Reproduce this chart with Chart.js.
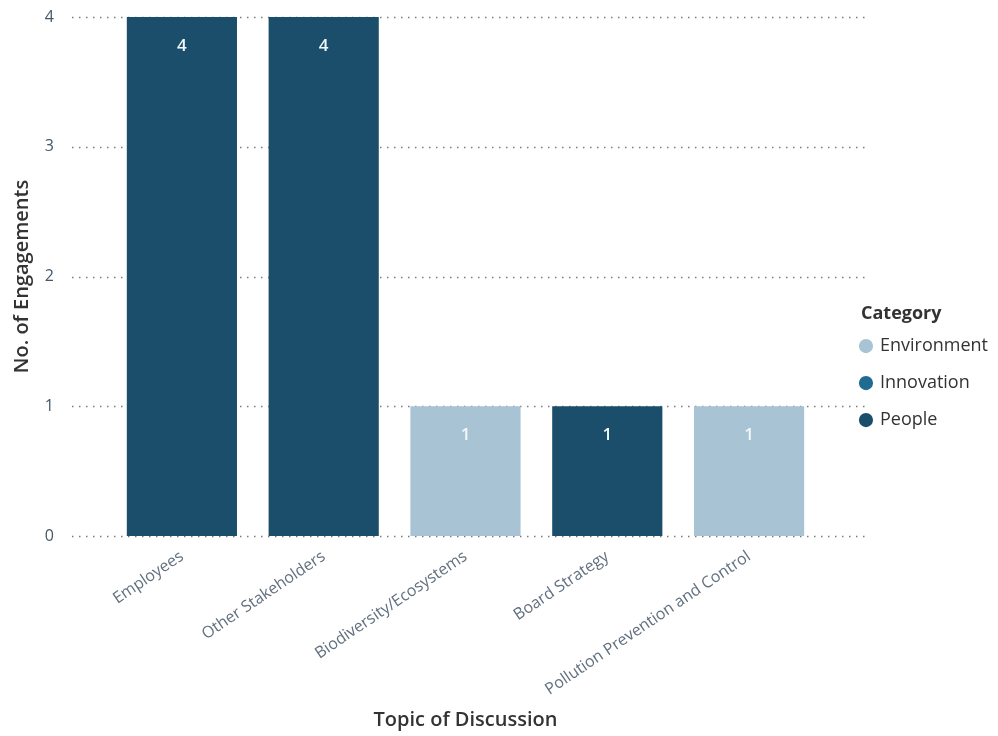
<!DOCTYPE html>
<html>
<head>
<meta charset="utf-8">
<script src="https://cdn.jsdelivr.net/npm/chart.js@4.4.1/dist/chart.umd.min.js"></script>
<style>
  html, body { margin: 0; padding: 0; background: #fff; }
  #wrap { width: 998px; height: 736px; }
</style>
</head>
<body>
<div id="wrap"><canvas id="engChart"></canvas></div>
<script>
// dados
const categories = ["Employees", "Other Stakeholders", "Biodiversity/Ecosystems", "Board Strategy", "Pollution Prevention and Control"];
const environment = [null, null, 1, null, 1];
const innovation = [null, null, null, null, null];
const people = [4, 4, null, 1, null];
const yTicks = [0, 1, 2, 3, 4];

const FONT = "'Open Sans', 'Noto Sans', sans-serif";

// linhas pontilhadas de grade, um pouco mais largas que a área das barras
const dottedGrid = {
  id: "dottedGrid",
  beforeDatasetsDraw(chart) {
    const { ctx, chartArea, scales } = chart;
    ctx.save();
    ctx.strokeStyle = "#7c7c7c";
    ctx.lineWidth = 1.5;
    ctx.setLineDash([1.5, 5.5]);
    yTicks.forEach((v) => {
      const y = Math.round(scales.y.getPixelForValue(v)) + 0.5;
      ctx.beginPath();
      ctx.moveTo(chartArea.left - 39, y);
      ctx.lineTo(chartArea.right + 46, y);
      ctx.stroke();
    });
    ctx.restore();
  },
};

// rótulos de valor dentro das barras
const barLabels = {
  id: "barLabels",
  afterDatasetsDraw(chart) {
    const { ctx } = chart;
    ctx.save();
    ctx.font = "600 17px " + FONT;
    ctx.fillStyle = "#f2f7fa";
    ctx.textAlign = "center";
    ctx.textBaseline = "middle";
    chart.data.datasets.forEach((ds, i) => {
      chart.getDatasetMeta(i).data.forEach((bar, j) => {
        if (ds.data[j] == null) return;
        ctx.fillText(String(ds.data[j]), bar.x, bar.y + 29);
      });
    });
    ctx.restore();
  },
};

// título da legenda alinhado com os círculos
const legendTitle = {
  id: "legendTitle",
  afterDraw(chart) {
    const lg = chart.legend;
    if (!lg || !lg.legendHitBoxes.length) return;
    const hb = lg.legendHitBoxes[0];
    const { ctx } = chart;
    ctx.save();
    ctx.font = "bold 18px " + FONT;
    ctx.fillStyle = "#333";
    ctx.textAlign = "left";
    ctx.textBaseline = "middle";
    ctx.fillText("Category", hb.left, hb.top + hb.height / 2 - 32);
    ctx.restore();
  },
};

new Chart(document.getElementById("engChart"), {
  type: "bar",
  data: {
    labels: categories,
    datasets: [
      { label: "Environment", data: environment, backgroundColor: "#a7c3d4" },
      { label: "Innovation", data: innovation, backgroundColor: "#1f6b91" },
      { label: "People", data: people, backgroundColor: "#1b4e6b" },
    ],
  },
  options: {
    responsive: true,
    maintainAspectRatio: false,
    animation: false,
    layout: { padding: { top: 17, left: 6, right: 0, bottom: 0 } },
    datasets: { bar: { categoryPercentage: 1, barPercentage: 0.777 } },
    plugins: {
      tooltip: { enabled: false },
      legend: {
        position: "right",
        align: "center",
        title: {
          display: true,
          text: "Category",
          color: "rgba(0,0,0,0)",
          font: { family: FONT, size: 11, weight: "bold" },
          padding: { top: 0, bottom: 0 },
        },
        labels: {
          usePointStyle: true,
          pointStyle: "circle",
          boxWidth: 10,
          boxHeight: 10,
          padding: 19,
          color: "#333",
          font: { family: FONT, size: 18 },
        },
      },
    },
    scales: {
      x: {
        stacked: true,
        grid: { display: false },
        border: { display: false },
        ticks: {
          minRotation: 34,
          maxRotation: 34,
          color: "#62707f",
          font: { family: FONT, size: 16 },
        },
        title: {
          display: true,
          text: "Topic of Discussion",
          color: "#333",
          font: { family: FONT, size: 20, weight: 600 },
        },
        afterFit(s) { s.height = 200; },
      },
      y: {
        stacked: true,
        min: 0,
        max: 4,
        grid: { display: false, drawTicks: true, tickLength: 51 },
        border: { display: false },
        ticks: {
          stepSize: 1,
          padding: 6,
          color: "#44586a",
          font: { family: FONT, size: 16 },
        },
        title: {
          display: true,
          text: "No. of Engagements",
          color: "#333",
          font: { family: FONT, size: 20, weight: 600 },
        },
        afterFit(s) { s.width = 105; },
      },
      gap: {
        position: "right",
        grid: { display: false },
        border: { display: false },
        ticks: { display: false },
        afterFit(s) { s.width = 22; },
      },
    },
  },
  plugins: [dottedGrid, barLabels, legendTitle],
});
</script>
</body>
</html>
